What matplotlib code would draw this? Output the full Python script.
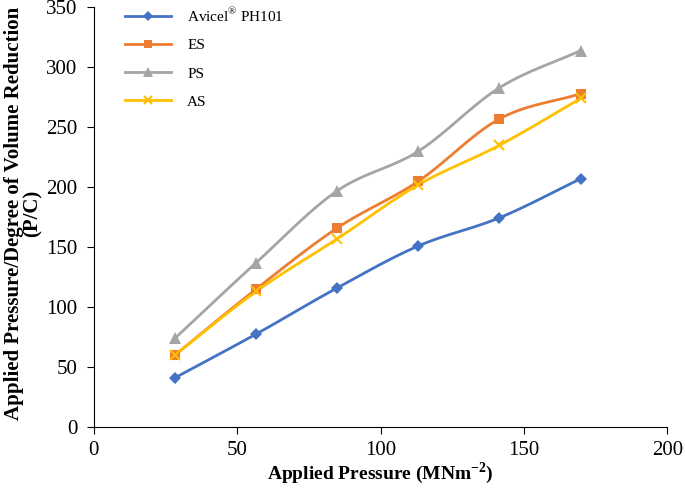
import matplotlib.pyplot as plt
import numpy as np
from matplotlib.lines import Line2D

# Data
pressure = [28.3, 56.6, 84.9, 113.2, 141.5, 169.8]
avicel = [41, 77.5, 116, 151, 174.5, 207]
es = [60, 115, 166, 205, 257, 278]
ps = [74, 137, 197, 230, 283, 314]
as_ = [60, 113, 157, 202, 235, 274]

series = [
    (r"Avicel$^{\mathrm{®}}$ PH101", avicel, "#4472C4", "D", 6),
    ("ES", es, "#ED7D31", "s", 7.5),
    ("PS", ps, "#A5A5A5", "^", 8),
    ("AS", as_, "#FFC000", "x", 7.5),
]

plt.rcParams["font.family"] = "Liberation Serif"
plt.rcParams["mathtext.fontset"] = "custom"
plt.rcParams["mathtext.rm"] = "Liberation Serif"
plt.rcParams["mathtext.bf"] = "Liberation Serif:bold"


def smooth(x, y, n=20):
    """Catmull-Rom style curve through the points (like Excel smoothed lines)."""
    x = np.asarray(x, float)
    y = np.asarray(y, float)
    px = np.concatenate([[2 * x[0] - x[1]], x, [2 * x[-1] - x[-2]]])
    py = np.concatenate([[2 * y[0] - y[1]], y, [2 * y[-1] - y[-2]]])
    xs, ys = [], []
    t = np.linspace(0, 1, n)
    for i in range(1, len(px) - 2):
        p0, p1, p2, p3 = (np.array([px[j], py[j]]) for j in range(i - 1, i + 3))
        c1 = p1 + (p2 - p0) / 6
        c2 = p2 - (p3 - p1) / 6
        b = ((1 - t) ** 3)[:, None] * p1 + (3 * (1 - t) ** 2 * t)[:, None] * c1 \
            + (3 * (1 - t) * t ** 2)[:, None] * c2 + (t ** 3)[:, None] * p2
        xs.extend(b[:, 0])
        ys.extend(b[:, 1])
    return xs, ys


fig = plt.figure(figsize=(6.85, 4.93), dpi=100)
ax = fig.add_axes([0.137, 0.134, 0.837, 0.851])

handles = []
for label, vals, color, marker, ms in series:
    sx, sy = smooth(pressure, vals)
    ax.plot(sx, sy, color=color, linewidth=2.0, zorder=2)
    mew = 1.5 if marker == "x" else 0
    ax.plot(pressure, vals, linestyle="none", marker=marker, color=color,
            markersize=ms, markeredgewidth=mew, zorder=3)
    handles.append(Line2D([], [], color=color, linewidth=2.0, marker=marker,
                          markersize=ms * 0.85, markeredgewidth=mew, label=label))

ax.set_xlim(0, 200)
ax.set_ylim(0, 350)
ax.set_xticks(np.arange(0, 201, 50))
ax.set_yticks(np.arange(0, 351, 50))
ax.spines["top"].set_visible(False)
ax.spines["right"].set_visible(False)
ax.tick_params(axis="both", labelsize=15, length=5, direction="out")
ax.tick_params(axis="y", pad=7)
ax.tick_params(axis="x", pad=5)

ax.set_xlabel(r"Applied Pressure (MNm$^{\mathbf{-2}}$)", fontsize=14,
              fontweight="bold")
ax.xaxis.set_label_coords(0.5, -0.08)
ax.set_ylabel("Applied Pressure/Degree of Volume Reduction\n(P/C)",
              fontsize=15, fontweight="bold", linespacing=0.92)
ax.yaxis.set_label_coords(-0.089, 0.51)

ax.legend(handles=handles, loc="upper left", bbox_to_anchor=(0.055, 1.003),
          frameon=False, fontsize=11, handlelength=3.0, handletextpad=1.05,
          labelspacing=0.95, borderpad=0, borderaxespad=0)

fig.savefig("out.png", dpi=100)
